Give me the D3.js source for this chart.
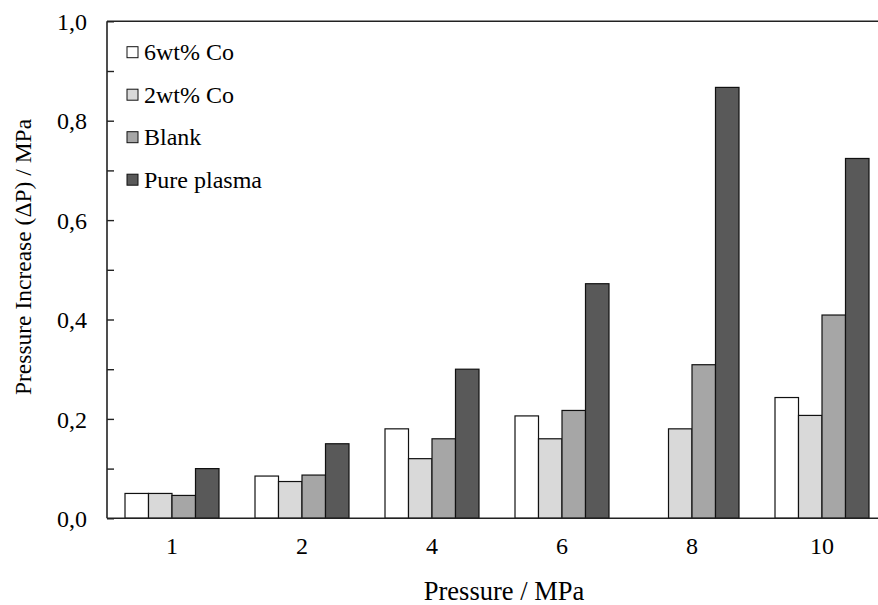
<!DOCTYPE html>
<html>
<head>
<meta charset="utf-8">
<script src="https://cdn.jsdelivr.net/npm/d3@7/dist/d3.min.js"></script>
<style>
  html, body { margin: 0; padding: 0; background: #fff; }
  svg { display: block; }
</style>
</head>
<body>
<svg id="chart" width="878" height="605" font-family="'Liberation Serif', 'DejaVu Serif', serif"></svg>
<script>
// Pressure steps (MPa) on the x axis
const categories = ["1", "2", "4", "6", "8", "10"];
const seriesNames = ["6wt% Co", "2wt% Co", "Blank", "Pure plasma"];
const seriesColors = ["#ffffff", "#d9d9d9", "#a6a6a6", "#595959"];

// Pressure increase ΔP (MPa) per series; null = no measurement
const co6 = [0.050, 0.085, 0.180, 0.206, null, 0.243];
const co2 = [0.050, 0.074, 0.120, 0.160, 0.180, 0.207];
const blank = [0.046, 0.087, 0.160, 0.217, 0.309, 0.409];
const purePlasma = [0.100, 0.150, 0.300, 0.472, 0.867, 0.724];
const seriesValues = [co6, co2, blank, purePlasma];

const yTicks = [0, 0.1, 0.2, 0.3, 0.4, 0.5, 0.6, 0.7, 0.8, 0.9, 1.0];
const yLabelTicks = [0, 0.2, 0.4, 0.6, 0.8, 1.0];

const svg = d3.select("#chart");
const m = { left: 107, top: 21.3 };
const plotW = 780, plotH = 497;

const x0 = d3.scaleBand().domain(categories).range([m.left, m.left + plotW])
  .paddingInner(0.277).paddingOuter(0.1385);
const x1 = d3.scaleBand().domain(seriesNames).range([0, x0.bandwidth()]);
const y = d3.scaleLinear().domain([0, 1]).range([m.top + plotH, m.top]);

// bars
const rows = categories.map((c, i) => ({
  cat: c,
  vals: seriesNames.map((s, k) => ({ s, k, v: seriesValues[k][i] }))
}));
const g = svg.append("g");
g.selectAll("g.grp").data(rows).join("g")
  .attr("class", "grp")
  .attr("transform", d => `translate(${x0(d.cat)},0)`)
  .selectAll("rect").data(d => d.vals.filter(e => e.v != null)).join("rect")
  .attr("x", d => x1(d.s))
  .attr("width", x1.bandwidth())
  .attr("y", d => y(d.v))
  .attr("height", d => y(0) - y(d.v))
  .attr("fill", d => seriesColors[d.k])
  .attr("stroke", "#111")
  .attr("stroke-width", 1.2);

// frame: left axis, top border, bottom axis
const frame = svg.append("g").attr("stroke", "#222").attr("stroke-width", 1.6).attr("fill", "none");
frame.append("line").attr("x1", m.left).attr("x2", m.left).attr("y1", y(1)).attr("y2", y(0));
frame.append("line").attr("x1", m.left).attr("x2", m.left + plotW).attr("y1", y(1)).attr("y2", y(1));
frame.append("line").attr("x1", m.left).attr("x2", m.left + plotW).attr("y1", y(0)).attr("y2", y(0));

// y axis: inward ticks every 0.1, labels every 0.2 with decimal comma
const yAxis = d3.axisRight(y).tickValues(yTicks).tickSize(7).tickFormat("");
const ya = svg.append("g").attr("transform", `translate(${m.left},0)`).call(yAxis);
ya.select(".domain").remove();
ya.selectAll(".tick line").attr("stroke", "#222").attr("stroke-width", 1.4);

const fmt = v => d3.format(".1f")(v).replace(".", ",");
svg.append("g").selectAll("text").data(yLabelTicks).join("text")
  .attr("x", 87).attr("y", d => y(d)).attr("dy", "0.36em")
  .attr("text-anchor", "end").attr("font-size", 24)
  .text(fmt);

// x tick labels
svg.append("g").selectAll("text").data(categories).join("text")
  .attr("x", d => x0(d) + x0.bandwidth() / 2).attr("y", 554)
  .attr("text-anchor", "middle").attr("font-size", 24)
  .text(d => d);

// axis titles
svg.append("text").attr("x", 504).attr("y", 600)
  .attr("text-anchor", "middle").attr("font-size", 26.5)
  .text("Pressure / MPa");
svg.append("text").attr("transform", "translate(31,257) rotate(-90)")
  .attr("text-anchor", "middle").attr("font-size", 23.5)
  .text("Pressure Increase (ΔP) / MPa");

// legend
const lg = svg.append("g").selectAll("g").data(seriesNames).join("g")
  .attr("transform", (d, i) => `translate(127,${46.7 + i * 42.5})`);
lg.append("rect").attr("width", 11).attr("height", 11)
  .attr("fill", (d, i) => seriesColors[i]).attr("stroke", "#111").attr("stroke-width", 1);
lg.append("text").attr("x", 17).attr("y", 13.5).attr("font-size", 24).text(d => d);
</script>
</body>
</html>
